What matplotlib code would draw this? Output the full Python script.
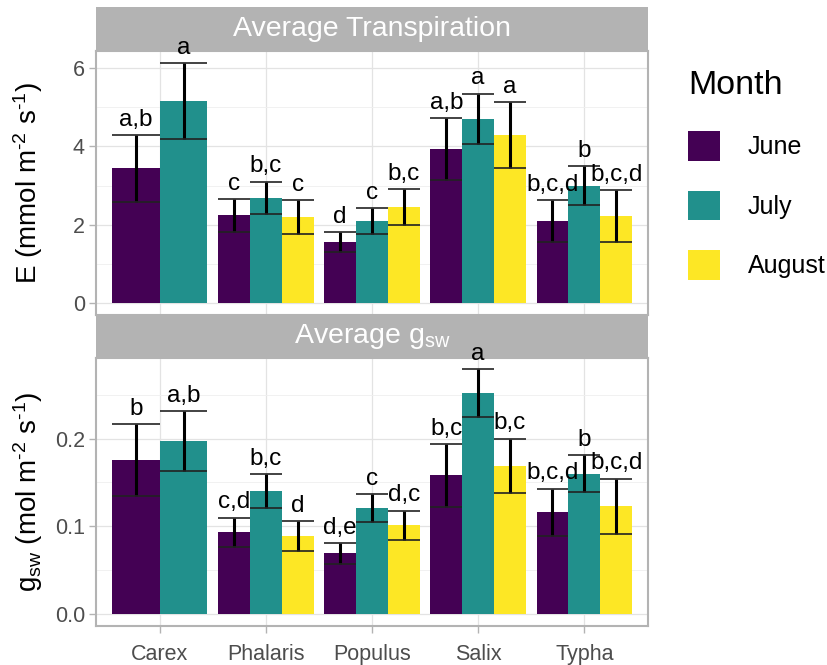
import numpy as np
import matplotlib
matplotlib.use('Agg')
import matplotlib.pyplot as plt
from matplotlib.patches import Patch

plt.rcParams['font.family'] = ['Liberation Sans', 'DejaVu Sans']
plt.rcParams['mathtext.fontset'] = 'custom'
plt.rcParams['mathtext.rm'] = 'Liberation Sans'
plt.rcParams['mathtext.it'] = 'Liberation Sans:italic'

species = ['Carex', 'Phalaris', 'Populus', 'Salix', 'Typha']
months = ['June', 'July', 'August']
colors = ['#440154', '#21908C', '#FDE725']

# transpiration E (mmol m-2 s-1), rows = species, cols = months
E_mean = np.array([[3.44, 5.16, np.nan],
                   [2.24, 2.68, 2.19],
                   [1.55, 2.09, 2.45],
                   [3.93, 4.70, 4.29],
                   [2.09, 2.99, 2.22]])
E_err = np.array([[0.86, 0.97, np.nan],
                  [0.42, 0.42, 0.44],
                  [0.26, 0.33, 0.45],
                  [0.80, 0.65, 0.85],
                  [0.53, 0.50, 0.66]])
E_letters = [['a,b', 'a', ''],
             ['c', 'b,c', 'c'],
             ['d', 'c', 'b,c'],
             ['a,b', 'a', 'a'],
             ['b,c,d', 'b', 'b,c,d']]

# stomatal conductance gsw (mol m-2 s-1)
g_mean = np.array([[0.176, 0.197, np.nan],
                   [0.093, 0.140, 0.089],
                   [0.069, 0.121, 0.101],
                   [0.158, 0.252, 0.169],
                   [0.116, 0.160, 0.123]])
g_err = np.array([[0.041, 0.034, np.nan],
                  [0.017, 0.0195, 0.017],
                  [0.012, 0.016, 0.017],
                  [0.0355, 0.027, 0.031],
                  [0.027, 0.021, 0.0315]])
g_letters = [['b', 'a,b', ''],
             ['c,d', 'b,c', 'd'],
             ['d,e', 'c', 'd,c'],
             ['b,c', 'a', 'b,c'],
             ['b,c,d', 'b', 'b,c,d']]

W, H = 828, 665
fig = plt.figure(figsize=(W / 100, H / 100), dpi=100)

def box(l, t, r, b):
    return [l / W, 1 - b / H, (r - l) / W, (b - t) / H]

def strip(t, b, label):
    s = fig.add_axes(box(96, t, 648, b), zorder=1)
    s.set_facecolor('#B3B3B3')
    s.set_xticks([])
    s.set_yticks([])
    for sp in s.spines.values():
        sp.set_visible(False)
    s.text(0.5, 0.5, label, color='white', fontsize=20.5, ha='center', va='center',
           transform=s.transAxes)

def panel(ax, mean, err, letters, ylim, major, minor, ylabel):
    ax.set_xlim(0.4, 5.6)
    ax.set_ylim(*ylim)
    for i in range(len(species)):
        ok = [j for j in range(3) if not np.isnan(mean[i, j])]
        w = 0.9 / len(ok)
        for k, j in enumerate(ok):
            x = i + 1 - 0.45 + w * (k + 0.5)
            m, e = mean[i, j], err[i, j]
            ax.bar(x, m, width=w, color=colors[j], zorder=2)
            ax.vlines(x, m - e, m + e, color='black', lw=2.2, zorder=3)
            ax.hlines([m - e, m + e], x - w / 2, x + w / 2, color='#222222', lw=1.2, zorder=3)
            ax.annotate(letters[i][j], (x, m + e), xytext=(0, 3), textcoords='offset points',
                        ha='center', va='bottom', fontsize=17.5, color='black', zorder=4,
                        annotation_clip=False)
    ax.set_yticks(major)
    ax.set_yticks(minor, minor=True)
    ax.set_xticks(range(1, 6))
    ax.grid(which='major', color='#E3E3E3', lw=0.9, zorder=0)
    ax.grid(which='minor', axis='y', color='#EFEFEF', lw=0.6, zorder=0)
    ax.set_axisbelow(True)
    for sp in ax.spines.values():
        sp.set_color('#B3B3B3')
        sp.set_linewidth(1.5)
    ax.tick_params(which='major', color='#B3B3B3', length=5, width=1, labelsize=15.5,
                   labelcolor='#4D4D4D', pad=3)
    ax.tick_params(axis='x', pad=8)
    ax.tick_params(which='minor', length=0)
    ax.set_ylabel(ylabel, fontsize=20)
    ax.yaxis.set_label_coords((45 - 96) / 552, 0.5)

ax1 = fig.add_axes(box(96, 51, 648, 315), zorder=2)
panel(ax1, E_mean, E_err, E_letters, (-0.31, 6.44), [0, 2, 4, 6], [1, 3, 5],
      r'E (mmol m$^\mathregular{‐2}$ s$^\mathregular{‐1}$)')
ax1.tick_params(axis='x', length=0, labelbottom=False)
strip(7, 51, 'Average Transpiration')

ax2 = fig.add_axes(box(96, 358, 648, 626), zorder=2)
panel(ax2, g_mean, g_err, g_letters, (-0.0137, 0.292), [0.0, 0.1, 0.2], [0.05, 0.15, 0.25],
      r'g$_\mathregular{sw}$ (mol m$^\mathregular{‐2}$ s$^\mathregular{‐1}$)')
ax2.set_yticklabels(['0.0', '0.1', '0.2'])
ax2.set_xticklabels(species)
strip(315, 358, r'Average g$_\mathregular{sw}$')

handles = [Patch(facecolor=c, edgecolor='none') for c in colors]
leg = fig.legend(handles, months, title='Month', loc='upper left',
                 bbox_to_anchor=(688 / W, 1 - 70 / H), frameon=False,
                 fontsize=18, title_fontsize=24.5, handlelength=1.3, handleheight=1.45,
                 labelspacing=1.2, handletextpad=1.1, borderpad=0, borderaxespad=0,
                 alignment='left')
leg.get_title().set_color('black')

fig.savefig('out.png', dpi=100)
